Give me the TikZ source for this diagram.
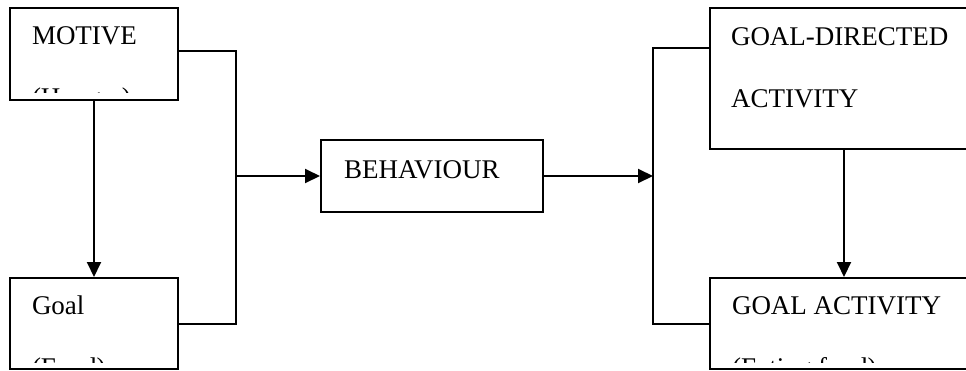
\documentclass[tikz,border=0pt]{standalone}
\usepackage{fontspec}
\setmainfont{Liberation Serif}
\usetikzlibrary{arrows.meta}
\tikzset{
>={Triangle[length=15pt,width=14pt]}, % solid triangular arrow heads
box/.style={draw, rectangle, inner sep=0pt, anchor=north west}, % the plain boxes
boxtext/.style={anchor=base west, inner sep=0pt, align=left, font=\fontsize{27}{62}\selectfont}, % text in a box, placed at its last line
}

\begin{document}
\begin{tikzpicture}[x=1pt, y=-1pt, line width=2pt]
    \useasboundingbox (0,0) rectangle (966,370);
    \clip (0,0) rectangle (966,370);
    \node[box, minimum width=168pt, minimum height=92pt] (motive) at (9,7) {};
    \node[box, minimum width=168pt, minimum height=91pt] (goal) at (9,277) {};
    \node[box, minimum width=222pt, minimum height=72pt] (beh) at (320,139) {};
    \node[box, minimum width=268pt, minimum height=141pt] (gda) at (709,7) {};
    \node[box, minimum width=268pt, minimum height=91pt] (ga) at (709,277) {};
    % texts, the second lines are cut off a little above the box bottoms
    \begin{scope}
      \clip (motive.north west) rectangle ([yshift=9pt]motive.south east);
      \node[boxtext] (motivetxt) at (31,106) {MOTIVE\\(Hunger)};
    \end{scope}
    \begin{scope}
      \clip (goal.north west) rectangle ([yshift=8pt]goal.south east);
      \node[boxtext] (goaltxt) at (31,376) {Goal\\(Food)};
    \end{scope}
    \node[boxtext] (behtxt) at (343,178) {BEHAVIOUR};
    \node[boxtext] (gdatxt) at (730,107) {GOAL-DIRECTED\\ACTIVITY};
    \begin{scope}
      \clip (ga.north west) rectangle ([yshift=8pt]ga.south east);
      \node[boxtext] (gatxt) at (731,376) {GOAL ACTIVITY\\(Eating food)};
    \end{scope}
    % connectors
    \coordinate (jl) at (236,176);
    \coordinate (jr) at (653,176);
    \draw ([yshift=3pt]motive.east) -| (jl) |- (goal.east);
    \draw[->] (jl) -- (beh.west);
    \draw[->] (beh.east) -- (jr);
    \draw ([yshift=-41pt]gda.north west) -| (jr) |- (ga.west);
    \draw[->] (motive) -- (goal);
    \draw[->] (gda) -- (ga);
  \end{tikzpicture}
\end{document}
